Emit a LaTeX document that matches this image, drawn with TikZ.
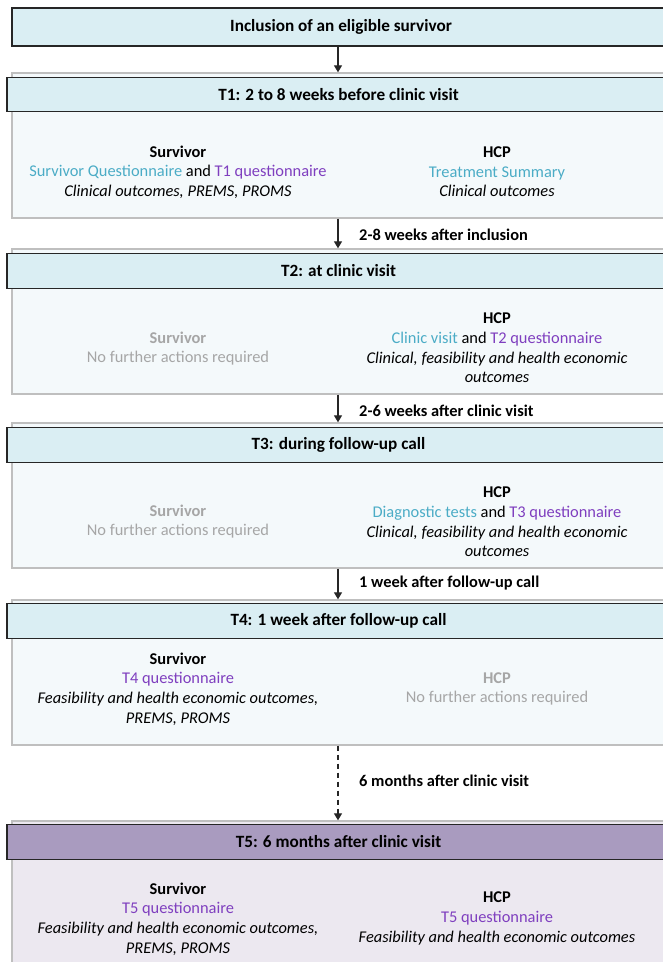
\documentclass[tikz,border=0pt]{standalone}
\usepackage{fontspec}
\setmainfont{Carlito}
\usetikzlibrary{arrows.meta,calc}
\definecolor{hdrblue}{HTML}{DAEEF3}
\definecolor{bodyblue}{HTML}{F4F9FB}
\definecolor{hdrpurple}{HTML}{A99BBF}
\definecolor{bodypurple}{HTML}{ECE8F0}
\definecolor{framegray}{HTML}{BFBFBF}
\definecolor{cyantxt}{HTML}{4BACC6}
\definecolor{purptxt}{HTML}{7F3FBF}
\definecolor{graytxt}{HTML}{A6A6A6}
\definecolor{arrowc}{HTML}{262626}
\newcommand{\cy}[1]{\textcolor{cyantxt}{#1}}
\newcommand{\pu}[1]{\textcolor{purptxt}{#1}}
\begin{document}
\begin{tikzpicture}[x=1pt,y=-1pt,
  txt/.style={font=\fontsize{16.4}{19.6}\selectfont},
  hdr/.style={draw=black!85, line width=1.2pt, fill=hdrblue, minimum width=663pt, minimum height=34.5pt, inner sep=0pt, font=\bfseries\fontsize{17.2}{19.6}\selectfont},
  grp/.style={draw=framegray, line width=1.4pt, fill=bodyblue, minimum width=658pt, minimum height=145pt, inner sep=0pt},
  col/.style={txt, align=center, inner sep=0pt},
  gcol/.style={col, text=graytxt},
  lab/.style={anchor=west, inner sep=0pt, font=\bfseries\fontsize{16.4}{19.6}\selectfont},
  arr/.style={draw=arrowc, line width=1.3pt, -{Triangle[length=7pt,width=8pt]}}
]
\useasboundingbox (0,0) rectangle (662,962);
% top box
\node[hdr, minimum width=658pt, minimum height=38pt] (inc) at (341,27) {Inclusion of an eligible survivor};
% groups
\node[grp] (g1) at (341,145.5) {};
\node[hdr] (h1) at (338.5,94.5) {T1: 2 to 8 weeks before clinic visit};
\node[grp] (g2) at (341,321.5) {};
\node[hdr] (h2) at (338.5,271) {T2: at clinic visit};
\node[grp] (g3) at (341,495.5) {};
\node[hdr] (h3) at (338.5,445) {T3: during follow-up call};
\node[grp] (g4) at (341,672.5) {};
\node[hdr] (h4) at (338.5,621) {T4: 1 week after follow-up call};
\node[grp, fill=bodypurple, minimum height=149pt] (g5) at (341,895.5) {};
\node[hdr, fill=hdrpurple] (h5) at (338.5,842) {T5: 6 months after clinic visit};
% contents
\node[col] (s1) at (178,172) {\textbf{Survivor}\\ \cy{Survivor Questionnaire} and \pu{T1 questionnaire}\\ \textit{Clinical outcomes, PREMS, PROMS}};
\node[col] (p1) at (497,172) {\textbf{HCP}\\ \cy{Treatment Summary}\\ \textit{Clinical outcomes}};
\node[gcol] (s2) at (178,348.5) {\textbf{Survivor}\\ No further actions required};
\node[col] (p2) at (497,348) {\textbf{HCP}\\ \cy{Clinic visit} and \pu{T2 questionnaire}\\ \textit{Clinical, feasibility and health economic}\\ \textit{outcomes}};
\node[gcol] (s3) at (178,521.5) {\textbf{Survivor}\\ No further actions required};
\node[col] (p3) at (497,522) {\textbf{HCP}\\ \cy{Diagnostic tests} and \pu{T3 questionnaire}\\ \textit{Clinical, feasibility and health economic}\\ \textit{outcomes}};
\node[col] (s4) at (178,689) {\textbf{Survivor}\\ \pu{T4 questionnaire}\\ \textit{Feasibility and health economic outcomes,}\\ \textit{PREMS, PROMS}};
\node[gcol] (p4) at (497,689) {\textbf{HCP}\\ No further actions required};
\node[col] (s5) at (178,919) {\textbf{Survivor}\\ \pu{T5 questionnaire}\\ \textit{Feasibility and health economic outcomes,}\\ \textit{PREMS, PROMS}};
\node[col] (p5) at (497,918.5) {\textbf{HCP}\\ \pu{T5 questionnaire}\\ \textit{Feasibility and health economic outcomes}};
% connectors
\coordinate (ax) at (338,0);
\draw[arr] (inc.south -| ax) -- (g1.north -| ax);
\draw[arr] (g1.south -| ax) -- (g2.north -| ax);
\draw[arr] (g2.south -| ax) -- (g3.north -| ax);
\draw[arr] (g3.south -| ax) -- (g4.north -| ax);
\draw[arr, dash pattern=on 5pt off 4pt] (g4.south -| ax) -- (g5.north -| ax);
% labels
\node[lab] (l1) at (359,235) {2-8 weeks after inclusion};
\node[lab] (l2) at (359,411) {2-6 weeks after clinic visit};
\node[lab] (l3) at (359,583) {1 week after follow-up call};
\node[lab] (l4) at (359,781) {6 months after clinic visit};
\end{tikzpicture}
\end{document}
